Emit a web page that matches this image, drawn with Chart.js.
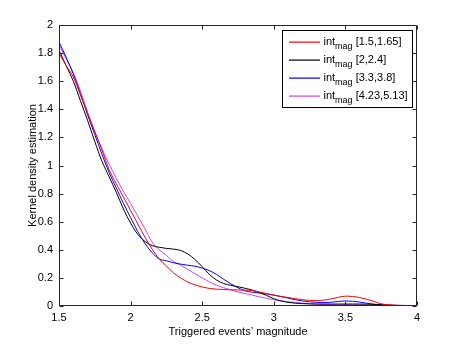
<!DOCTYPE html>
<html>
<head>
<meta charset="utf-8">
<script src="https://cdn.jsdelivr.net/npm/chart.js@4.4.0/dist/chart.umd.min.js"></script>
<style>
html, body { margin: 0; padding: 0; background: #fff; }
#wrap { width: 460px; height: 346px; }
</style>
</head>
<body>
<div id="wrap"><canvas id="grafica" width="460" height="346"></canvas></div>
<script>
// Magnitudes del eje X (paso 0.05)
const magnitudes = [1.5,1.55,1.6,1.65,1.7,1.75,1.8,1.85,1.9,1.95,2,2.05,2.1,2.15,2.2,2.25,2.3,2.35,2.4,2.45,
  2.5,2.55,2.6,2.65,2.7,2.75,2.8,2.85,2.9,2.95,3,3.05,3.1,3.15,3.2,3.25,3.3,3.35,3.4,3.45,
  3.5,3.55,3.6,3.65,3.7,3.75,3.8,3.85,3.9,3.95,4];

// Densidades
const dens1 = [1.80,1.71,1.63,1.50,1.37,1.24,1.11,0.97,0.87,0.775,0.68,0.585,0.49,0.405,0.335,0.285,0.235,0.20,0.17,0.15,
  0.135,0.125,0.12,0.117,0.115,0.114,0.113,0.11,0.10,0.088,0.078,0.068,0.06,0.052,0.045,0.04,0.038,0.042,0.05,0.062,
  0.07,0.068,0.06,0.048,0.032,0.016,0.008,0.005,0.003,0.002,0.002];
const dens2 = [1.82,1.71,1.60,1.46,1.32,1.17,1.03,0.92,0.81,0.69,0.59,0.51,0.46,0.43,0.418,0.41,0.405,0.395,0.37,0.33,
  0.28,0.225,0.185,0.16,0.147,0.137,0.126,0.113,0.095,0.075,0.052,0.036,0.026,0.02,0.017,0.015,0.014,0.014,0.014,0.014,
  0.014,0.014,0.014,0.013,0.012,0.01,0.007,0.005,0.004,0.003,0.003];
const dens3 = [1.88,1.77,1.65,1.51,1.36,1.22,1.08,0.95,0.84,0.73,0.63,0.53,0.445,0.38,0.335,0.322,0.308,0.298,0.29,0.283,
  0.27,0.252,0.225,0.19,0.158,0.13,0.108,0.098,0.092,0.086,0.077,0.067,0.056,0.045,0.036,0.03,0.026,0.025,0.027,0.032,
  0.036,0.034,0.028,0.02,0.012,0.007,0.004,0.003,0.002,0.002,0.002];
const dens4 = [1.86,1.76,1.66,1.53,1.38,1.24,1.12,1.01,0.91,0.815,0.73,0.64,0.55,0.455,0.40,0.36,0.315,0.29,0.26,0.23,
  0.20,0.172,0.148,0.13,0.115,0.10,0.088,0.077,0.065,0.055,0.045,0.037,0.03,0.025,0.02,0.016,0.013,0.011,0.01,0.009,
  0.009,0.008,0.008,0.007,0.006,0.005,0.005,0.004,0.004,0.004,0.004];

const etiquetas = ["int_mag [1.5,1.65]", "int_mag [2,2.4]", "int_mag [3.3,3.8]", "int_mag [4.23,5.13]"];
const colores = ["#ff0000", "#000000", "#0000ff", "#cc44ff"];
const series = [dens1, dens2, dens3, dens4];

const fuente = "'Liberation Sans', Arial, Helvetica, sans-serif";

// Marco estilo MATLAB con marcas hacia dentro en los cuatro lados
const marco = {
  id: "marco",
  afterDraw(chart) {
    const { ctx, chartArea: a, scales: { x, y } } = chart;
    const L = Math.round(a.left) + 0.5, R = Math.round(a.right) - 0.5;
    const T = Math.round(a.top) + 0.5, B = Math.round(a.bottom) - 0.5;
    ctx.save();
    ctx.strokeStyle = "#262626";
    ctx.lineWidth = 1;
    ctx.beginPath();
    ctx.rect(L, T, R - L, B - T);
    x.ticks.forEach(t => {
      const px = Math.round(x.getPixelForValue(t.value)) + 0.5;
      ctx.moveTo(px, B); ctx.lineTo(px, B - 4);
      ctx.moveTo(px, T); ctx.lineTo(px, T + 4);
    });
    y.ticks.forEach(t => {
      const py = Math.round(y.getPixelForValue(t.value)) + 0.5;
      ctx.moveTo(L, py); ctx.lineTo(L + 4, py);
      ctx.moveTo(R, py); ctx.lineTo(R - 4, py);
    });
    ctx.stroke();

    // Leyenda con subíndice
    const bx = Math.round(a.right) - 134.5, by = Math.round(a.top) + 5.5, bw = 130, bh = 77;
    ctx.fillStyle = "#fff";
    ctx.fillRect(bx, by, bw, bh);
    ctx.strokeStyle = "#000";
    ctx.strokeRect(bx, by, bw, bh);
    chart.data.datasets.forEach((ds, i) => {
      const cy = Math.round(by + 10 + i * 18.2);
      ctx.fillStyle = ds.borderColor;
      ctx.fillRect(Math.round(bx + 6), cy + 0.5, 31, 1.2);
      const [base, resto] = ds.label.split(" ");
      const [txt, sub] = base.split("_");
      ctx.fillStyle = "#000";
      ctx.textBaseline = "alphabetic";
      ctx.font = "11px " + fuente;
      let tx = bx + 41;
      ctx.fillText(txt, tx, cy + 4);
      tx += ctx.measureText(txt).width;
      ctx.font = "9px " + fuente;
      ctx.fillText(sub, tx, cy + 8);
      tx += ctx.measureText(sub).width + 3;
      ctx.font = "11px " + fuente;
      ctx.fillText(resto, tx, cy + 4);
    });
    ctx.restore();
  }
};

const formato = v => String(+Number(v).toFixed(2));

new Chart(document.querySelector("#grafica"), {
  type: "line",
  data: {
    datasets: series.map((s, i) => ({
      label: etiquetas[i],
      data: magnitudes.map((m, j) => ({ x: m, y: s[j] })),
      borderColor: colores[i],
      borderWidth: 1,
      pointRadius: 0,
      fill: false,
      cubicInterpolationMode: "monotone"
    }))
  },
  options: {
    responsive: false,
    animation: false,
    events: [],
    layout: { padding: { top: 25, right: 43, left: 0, bottom: 0 } },
    plugins: { legend: { display: false }, tooltip: { enabled: false } },
    scales: {
      x: {
        type: "linear",
        min: 1.5, max: 4,
        afterFit: s => { s.height = 40; },
        grid: { display: false, drawTicks: false },
        border: { display: false },
        ticks: { stepSize: 0.5, padding: 5, color: "#000", maxRotation: 0,
          font: { family: fuente, size: 11 }, callback: formato },
        title: { display: true, text: "Triggered events\u2019 magnitude", color: "#000",
          font: { family: fuente, size: 11 }, padding: { top: 0, bottom: 7 } }
      },
      y: {
        min: 0, max: 2,
        afterFit: s => { s.width = 59; },
        grid: { display: false, drawTicks: false },
        border: { display: false },
        ticks: { stepSize: 0.2, padding: 6, color: "#000",
          font: { family: fuente, size: 11 }, callback: formato },
        title: { display: true, text: "Kernel density estimation", color: "#000",
          font: { family: fuente, size: 11 }, padding: { top: 26, bottom: 0 } }
      }
    }
  },
  plugins: [marco]
});
</script>
</body>
</html>
